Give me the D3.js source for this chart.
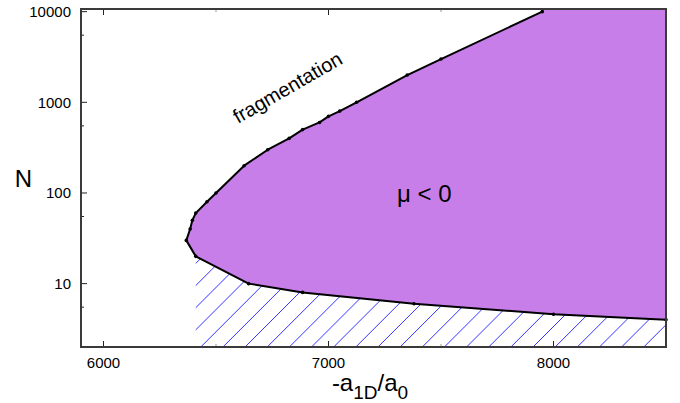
<!DOCTYPE html>
<html>
<head>
<meta charset="utf-8">
<script src="https://cdn.jsdelivr.net/npm/d3@7"></script>
<style>
  body { margin: 0; background: #fff; }
  svg { display: block; font-family: "Liberation Sans", Arial, Helvetica, sans-serif; }
</style>
</head>
<body>
<div id="chart"></div>
<script>
// upper branch of the mu = 0 boundary (from top down to the tip)
var upperX = [7950, 7500, 7350, 7125, 7050, 7000, 6960, 6885, 6825, 6730, 6625, 6500, 6460, 6410, 6395, 6385, 6368];
var upperN = [10000, 3000, 2000, 1000, 800, 700, 600, 500, 400, 300, 200, 100, 80, 60, 50, 40, 30];
// lower branch (from the tip to the right edge)
var lowerX = [6410, 6645, 6885, 7380, 8000, 8500];
var lowerN = [20, 10, 8, 6, 4.6, 4];

var xTicks = [6000, 7000, 8000];
var xMinorTicks = [6500, 7500];
var yTicks = [10, 100, 1000, 10000];
var yMinorTicks = [5.5, 55, 550, 5500];

var width = 680, height = 403;
var margin = { top: 9, right: 14, bottom: 56, left: 81 };
var w = width - margin.left - margin.right;
var h = height - margin.top - margin.bottom;

var svg = d3.select('#chart').append('svg')
  .attr('width', width)
  .attr('height', height);

var x = d3.scaleLinear().domain([5900, 8500]).range([0, w]);
var y = d3.scaleLog().domain([2, 10700]).range([h, 0]);

var defs = svg.append('defs');
defs.append('clipPath').attr('id', 'plotclip')
  .append('rect').attr('width', w).attr('height', h);

var g = svg.append('g')
  .attr('transform', 'translate(' + margin.left + ',' + margin.top + ')');

var upper = upperX.map(function(d, i) { return { x: d, n: upperN[i] }; });
var lower = lowerX.map(function(d, i) { return { x: d, n: lowerN[i] }; });
var yMax = y.domain()[1];

// ticks (drawn first, fill covers them)
var tickG = g.append('g').attr('stroke', '#222');
xTicks.forEach(function(t) {
  tickG.append('line').attr('x1', x(t)).attr('x2', x(t)).attr('y1', h).attr('y2', h - 6);
  tickG.append('line').attr('x1', x(t)).attr('x2', x(t)).attr('y1', 0).attr('y2', 6);
});
xMinorTicks.forEach(function(t) {
  tickG.append('line').attr('x1', x(t)).attr('x2', x(t)).attr('y1', h).attr('y2', h - 3).attr('stroke', '#999');
  tickG.append('line').attr('x1', x(t)).attr('x2', x(t)).attr('y1', 0).attr('y2', 3).attr('stroke', '#999');
});
yTicks.forEach(function(t) {
  tickG.append('line').attr('x1', 0).attr('x2', 6).attr('y1', y(t)).attr('y2', y(t));
  tickG.append('line').attr('x1', w).attr('x2', w - 6).attr('y1', y(t)).attr('y2', y(t));
});
yMinorTicks.forEach(function(t) {
  tickG.append('line').attr('x1', 0).attr('x2', 3).attr('y1', y(t)).attr('y2', y(t));
  tickG.append('line').attr('x1', w).attr('x2', w - 3).attr('y1', y(t)).attr('y2', y(t));
});

// mu < 0 region
var region = [{ x: upperX[0], n: yMax }].concat(upper, lower, [{ x: x.domain()[1], n: yMax }]);
var areaLine = d3.line().x(function(d) { return x(d.x); }).y(function(d) { return y(d.n); });
g.append('path')
  .attr('clip-path', 'url(#plotclip)')
  .attr('d', areaLine(region) + 'Z')
  .attr('fill', '#c77ee8');

// hatched region below the lower branch
var hatchArea = d3.area()
  .x(function(d) { return x(d.x); })
  .y0(h)
  .y1(function(d) { return y(d.n); });
defs.append('clipPath').attr('id', 'hatchclip')
  .append('path').attr('d', hatchArea(lower));
var step = 22.15;
var hatch = g.append('g').attr('clip-path', 'url(#hatchclip)');
d3.range(-20, 40).forEach(function(k) {
  var x0 = 9 + k * step;
  hatch.append('line')
    .attr('x1', x0).attr('y1', h)
    .attr('x2', x0 + h).attr('y2', 0)
    .attr('stroke', '#3333ff')
    .attr('stroke-width', 1);
});

// boundary line + points
g.append('path')
  .attr('clip-path', 'url(#plotclip)')
  .attr('d', areaLine([{ x: upperX[0], n: yMax }].concat(upper, lower)))
  .attr('fill', 'none')
  .attr('stroke', '#000')
  .attr('stroke-width', 2)
  .attr('stroke-linejoin', 'round');
g.selectAll('circle.pt')
  .data(upper.concat(lower))
  .enter().append('circle')
  .attr('class', 'pt')
  .attr('cx', function(d) { return x(d.x); })
  .attr('cy', function(d) { return y(d.n); })
  .attr('r', 1.8)
  .attr('fill', '#000');

// frame
g.append('rect')
  .attr('width', w).attr('height', h)
  .attr('fill', 'none')
  .attr('stroke', '#3a3a3a')
  .attr('stroke-width', 2);

// tick labels
g.selectAll('text.xt')
  .data(xTicks)
  .enter().append('text')
  .attr('class', 'xt')
  .attr('x', function(d) { return x(d); })
  .attr('y', h + 21)
  .attr('text-anchor', 'middle')
  .attr('font-size', 15)
  .text(function(d) { return d; });
g.selectAll('text.yt')
  .data(yTicks)
  .enter().append('text')
  .attr('class', 'yt')
  .attr('x', -10)
  .attr('y', function(d) { return y(d); })
  .attr('dy', '0.36em')
  .attr('text-anchor', 'end')
  .attr('font-size', 15)
  .text(function(d) { return d; });

// axis titles
svg.append('text')
  .attr('x', 23.5).attr('y', 187)
  .attr('text-anchor', 'middle')
  .attr('font-size', 24)
  .text('N');

var xt = svg.append('text')
  .attr('x', 370).attr('y', 391)
  .attr('text-anchor', 'middle')
  .attr('font-size', 24);
xt.append('tspan').text('-a');
xt.append('tspan').attr('font-size', 19).attr('dy', 8).text('1D');
xt.append('tspan').attr('dy', -8).text('/a');
xt.append('tspan').attr('font-size', 19).attr('dy', 8).text('0');

// annotations
svg.append('text')
  .attr('transform', 'translate(238,124) rotate(-30)')
  .attr('font-size', 20)
  .text('fragmentation');

svg.append('text')
  .attr('x', 397).attr('y', 202)
  .attr('font-size', 24)
  .text('\u03bc < 0');
</script>
</body>
</html>
